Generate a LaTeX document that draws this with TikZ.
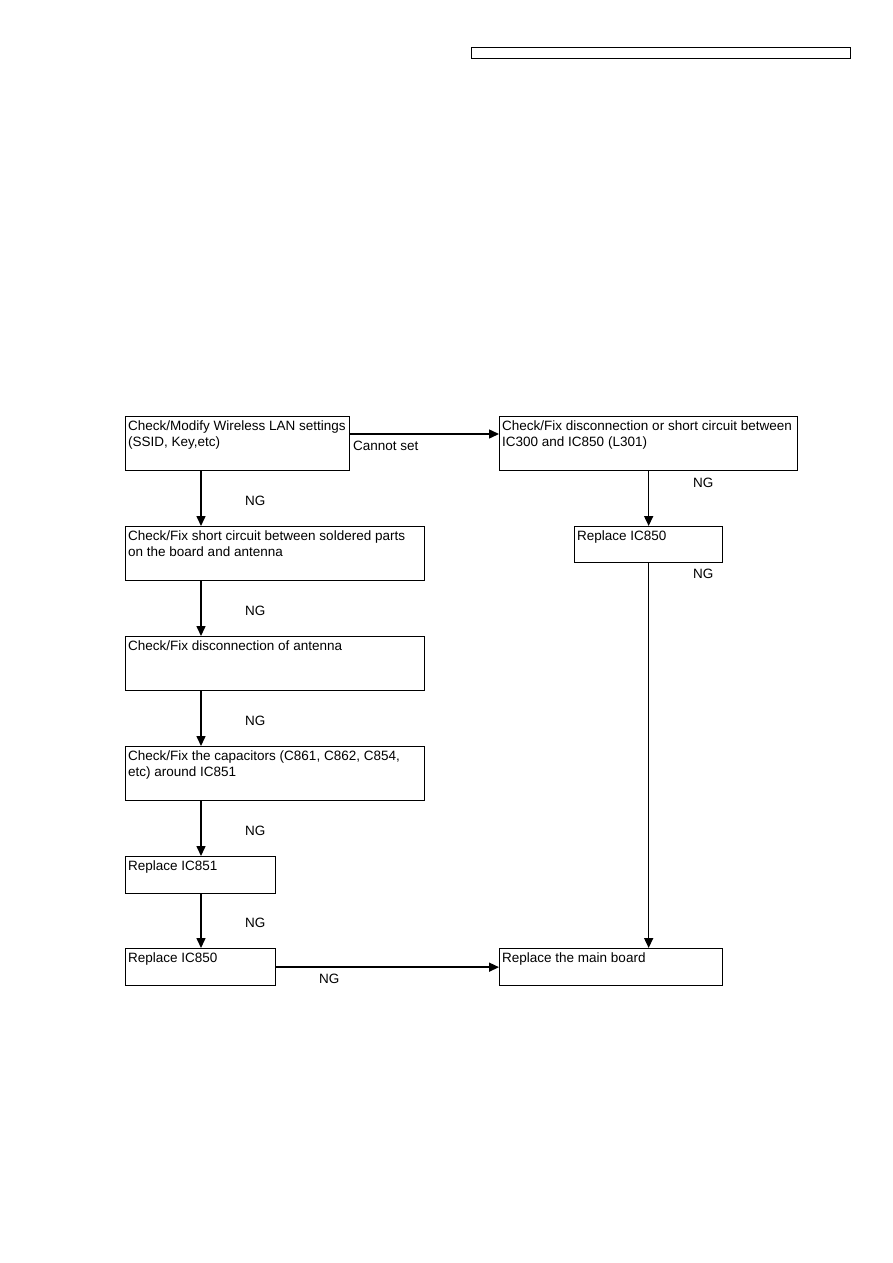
\documentclass[tikz,border=0pt]{standalone}
\usepackage{fontspec}
\setmainfont{Liberation Sans}
\usetikzlibrary{arrows.meta}
\begin{document}
\begin{tikzpicture}[x=1pt,y=-1pt,
  box/.style={draw, line width=1.3pt, inner sep=0pt, anchor=north west},
  txt/.style={inner sep=0pt, anchor=north west, align=left, font=\fontsize{13.5}{16}\selectfont},
  lbl/.style={inner sep=0pt, anchor=base west, font=\fontsize{13.5}{16}\selectfont},
  arr/.style={line width=1.5pt, -{Triangle[length=10pt,width=9pt]}}]
\useasboundingbox (0,0) rectangle (893,1263);
\node[draw, line width=1.2pt, inner sep=0pt, anchor=north west, minimum width=379pt, minimum height=11pt] (hdr) at (471,47) {};
% boxes
\node[box, minimum width=224pt, minimum height=54pt] (A) at (125,416) {};
\node[box, minimum width=298pt, minimum height=54pt] (B) at (499,416) {};
\node[box, minimum width=299pt, minimum height=54pt] (C) at (125,526) {};
\node[box, minimum width=299pt, minimum height=54pt] (D) at (125,636) {};
\node[box, minimum width=299pt, minimum height=54pt] (E) at (125,746) {};
\node[box, minimum width=150pt, minimum height=37pt] (F) at (125,856) {};
\node[box, minimum width=150pt, minimum height=37pt] (G) at (125,948) {};
\node[box, minimum width=148pt, minimum height=36pt] (H) at (574,526) {};
\node[box, minimum width=223pt, minimum height=37pt] (I) at (499,948) {};
% texts
\node[txt] (At) at ([shift={(3,5)}]A.north west) {Check/Modify Wireless LAN settings\\(SSID, Key,etc)};
\node[txt] (Bt) at ([shift={(3,5)}]B.north west) {Check/Fix disconnection or short circuit between\\IC300 and IC850 (L301)};
\node[txt] (Ct) at ([shift={(3,5)}]C.north west) {Check/Fix short circuit between soldered parts\\on the board and antenna};
\node[txt] (Dt) at ([shift={(3,5)}]D.north west) {Check/Fix disconnection of antenna};
\node[txt] (Et) at ([shift={(3,5)}]E.north west) {Check/Fix the capacitors (C861, C862, C854,\\etc) around IC851};
\node[txt] (Ft) at ([shift={(3,5)}]F.north west) {Replace IC851};
\node[txt] (Gt) at ([shift={(3,5)}]G.north west) {Replace IC850};
\node[txt] (Ht) at ([shift={(3,5)}]H.north west) {Replace IC850};
\node[txt] (It) at ([shift={(3,5)}]I.north west) {Replace the main board};
% connectors
\draw[arr] ([yshift=-18pt]A.north east) -- ([yshift=-18pt]B.north west);
\draw[arr] ([xshift=76pt]A.south west) -- ([xshift=76pt]C.north west);
\draw[arr] ([xshift=76pt]C.south west) -- ([xshift=76pt]D.north west);
\draw[arr] ([xshift=76pt]D.south west) -- ([xshift=76pt]E.north west);
\draw[arr] ([xshift=76pt]E.south west) -- ([xshift=76pt]F.north west);
\draw[arr] ([xshift=76pt]F.south west) -- ([xshift=76pt]G.north west);
\draw[arr] (G.east) -- (I.west);
\draw[arr] (B.south) -- (H.north);
\draw[arr] (H.south) -- (H.south |- I.north);
% labels
\node[lbl] (l1) at (353,450) {Cannot set};
\node[lbl] (l2) at (245,505) {NG};
\node[lbl] (l3) at (245,615) {NG};
\node[lbl] (l4) at (245,725) {NG};
\node[lbl] (l5) at (245,835) {NG};
\node[lbl] (l6) at (245,927) {NG};
\node[lbl] (l7) at (319,983) {NG};
\node[lbl] (l8) at (693,487) {NG};
\node[lbl] (l9) at (693,578) {NG};
\end{tikzpicture}
\end{document}
